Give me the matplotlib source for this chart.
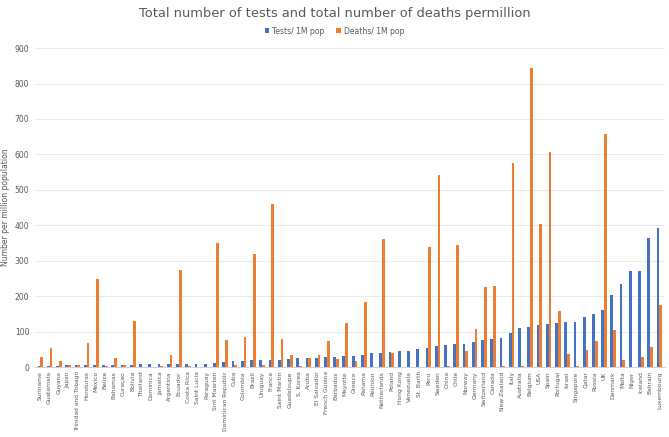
import matplotlib.pyplot as plt
import numpy as np

countries = ["Suriname", "Guatemala", "Guyana", "Japan", "Trinidad and Tobago", "Honduras",
             "Mexico", "Belize", "Bahamas", "Curaçao", "Bolivia", "Thailand", "Dominica",
             "Jamaica", "Argentina", "Ecuador", "Costa Rica", "Saint Lucia", "Paraguay",
             "Sint Maarten", "Dominican Republic", "Cuba", "Colombia", "Brazil", "Uruguay",
             "France", "Saint Martin", "Guadeloupe", "S. Korea", "Aruba", "El Salvador",
             "French Guiana", "Barbados", "Mayotte", "Greece", "Panama", "Réunion",
             "Netherlands", "Poland", "Hong Kong", "Venezuela", "St. Barth", "Peru", "Sweden",
             "China", "Chile", "Norway", "Germany", "Switzerland", "Canada", "New Zealand",
             "Italy", "Australia", "Belgium", "USA", "Spain", "Portugal", "Israel",
             "Singapore", "Qatar", "Russia", "UK", "Denmark", "Malta", "Niger", "Iceland",
             "Bahrain", "Luxembourg"]

tests = [2, 3, 4, 5, 5, 5, 5, 5, 5, 6, 7, 8, 8, 8, 9, 9, 9, 10, 10, 11, 15, 16, 17, 19, 19,
         20, 21, 22, 25, 25, 27, 28, 28, 31, 32, 34, 39, 39, 43, 45, 45, 50, 55, 59, 63, 64,
         65, 70, 75, 79, 83, 95, 111, 114, 119, 122, 123, 126, 128, 140, 149, 162, 202, 235,
         272, 272, 364, 393]

deaths = [28, 55, 18, 6, 5, 67, 248, 3, 27, 5, 130, 1, 0, 2, 35, 275, 3, 0, 1, 350, 75, 5,
          86, 318, 5, 460, 78, 33, 4, 26, 34, 74, 22, 125, 17, 184, 1, 360, 40, 1, 0, 0, 338,
          543, 3, 345, 45, 108, 227, 230, 4, 575, 4, 843, 405, 606, 159, 38, 3, 49, 73, 657,
          104, 19, 1, 28, 57, 176]

fig = plt.figure(figsize=(6.69, 4.37), dpi=100)
ax = fig.add_axes([0.052, 0.16, 0.942, 0.73])

x = np.arange(len(countries))
w = 0.3
ax.bar(x - w / 2, tests, w, color="#4472C4", label="Tests/ 1M pop")
ax.bar(x + w / 2, deaths, w, color="#ED7D31", label="Deaths/ 1M pop")

ax.set_xlim(-0.6, len(countries) - 0.4)
ax.set_ylim(0, 900)
ax.set_yticks(range(0, 901, 100))
ax.set_xticks(x)
ax.set_xticklabels(countries, rotation=90, fontsize=4.3, color="#595959")
ax.tick_params(axis="y", labelsize=5.5, colors="#595959", length=0, pad=4)
ax.tick_params(axis="x", length=0, pad=3)
ax.grid(axis="y", color="#E6E6E6", linewidth=0.6)
ax.set_axisbelow(True)
for s in ["top", "right", "left"]:
    ax.spines[s].set_visible(False)
ax.spines["bottom"].set_color("#D0D0D0")
ax.spines["bottom"].set_linewidth(0.7)

ax.set_ylabel("Number per million population", fontsize=5.5, color="#595959", labelpad=3)
fig.suptitle("Total number of tests and total number of deaths permillion",
             y=0.985, fontsize=9.4, color="#595959")
fig.legend(loc="upper center", bbox_to_anchor=(0.5, 0.955), ncol=2, frameon=False,
           fontsize=5.5, handlelength=0.6, handleheight=0.6, columnspacing=1.5,
           handletextpad=0.4, labelcolor="#595959")

fig.savefig("out.png", dpi=100)
